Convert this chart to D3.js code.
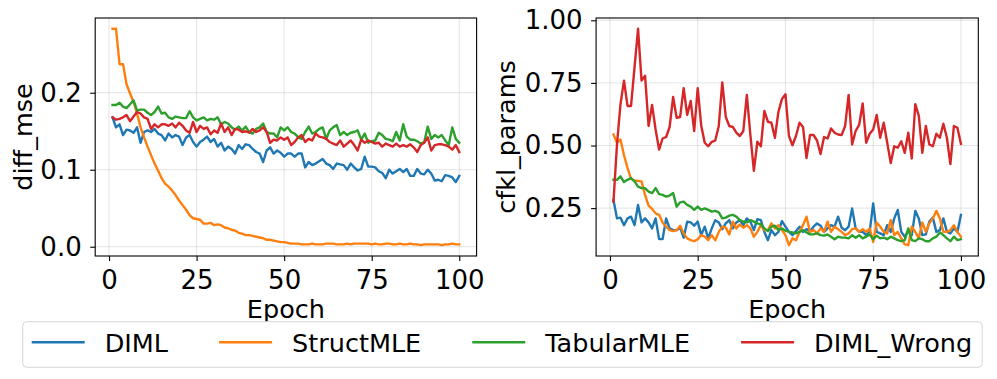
<!DOCTYPE html>
<html>
<head>
<meta charset="utf-8">
<script src="https://cdn.jsdelivr.net/npm/d3@7"></script>
<style>
    body { margin: 0; background: #fff; }
    svg { display: block; font-family: "DejaVu Sans", sans-serif; }
</style>
</head>
<body>
<svg id="chart" width="997" height="379"></svg>
<script>
const epochs = d3.range(1, 101);
const seriesNames = ["DIML", "StructMLE", "TabularMLE", "DIML_Wrong"];
const seriesColors = ["#1f77b4", "#ff7f0e", "#2ca02c", "#d62728"];
const xTicks = [0, 25, 50, 75, 100];

// left panel: diff_mse
const mseDIML = [
    0.168, 0.155, 0.159, 0.145, 0.152, 0.151, 0.148, 0.155, 0.135, 0.149,
    0.151, 0.149, 0.153, 0.147, 0.145, 0.138, 0.147, 0.142, 0.145, 0.143,
    0.132, 0.142, 0.145, 0.136, 0.130, 0.136, 0.139, 0.143, 0.136, 0.140,
    0.130, 0.135, 0.125, 0.130, 0.127, 0.121, 0.132, 0.127, 0.133, 0.132,
    0.127, 0.123, 0.121, 0.110, 0.125, 0.129, 0.121, 0.125, 0.122, 0.117,
    0.121, 0.121, 0.117, 0.121, 0.121, 0.103, 0.110, 0.106, 0.108, 0.111,
    0.114, 0.108, 0.106, 0.101, 0.108, 0.107, 0.106, 0.100, 0.108, 0.103,
    0.099, 0.101, 0.117, 0.104, 0.104, 0.103, 0.098, 0.096, 0.089, 0.100,
    0.095, 0.098, 0.101, 0.097, 0.101, 0.092, 0.092, 0.101, 0.095, 0.094,
    0.100, 0.095, 0.086, 0.087, 0.085, 0.093, 0.092, 0.090, 0.084, 0.092
];
const mseStructMLE = [
    0.283, 0.283, 0.237, 0.237, 0.211, 0.199, 0.188, 0.173, 0.155, 0.142,
    0.130, 0.119, 0.108, 0.099, 0.089, 0.082, 0.078, 0.073, 0.067, 0.060,
    0.054, 0.048, 0.041, 0.037, 0.036, 0.035, 0.030, 0.030, 0.031, 0.028,
    0.029, 0.028, 0.025, 0.024, 0.022, 0.021, 0.018, 0.017, 0.015, 0.015,
    0.014, 0.013, 0.012, 0.011, 0.009, 0.009, 0.008, 0.007, 0.006, 0.006,
    0.005, 0.004, 0.004, 0.004, 0.003, 0.003, 0.003, 0.004, 0.003, 0.003,
    0.003, 0.004, 0.004, 0.004, 0.003, 0.003, 0.003, 0.004, 0.003, 0.004,
    0.004, 0.004, 0.004, 0.004, 0.003, 0.004, 0.003, 0.003, 0.004, 0.004,
    0.003, 0.003, 0.004, 0.003, 0.003, 0.004, 0.003, 0.003, 0.002, 0.003,
    0.003, 0.003, 0.003, 0.003, 0.002, 0.003, 0.003, 0.004, 0.003, 0.003
];
const mseTabularMLE = [
    0.184, 0.184, 0.187, 0.182, 0.180, 0.185, 0.190, 0.177, 0.178, 0.178,
    0.174, 0.171, 0.175, 0.182, 0.173, 0.174, 0.168, 0.166, 0.169, 0.168,
    0.167, 0.167, 0.176, 0.168, 0.164, 0.166, 0.168, 0.164, 0.166, 0.165,
    0.168, 0.159, 0.162, 0.160, 0.155, 0.152, 0.156, 0.151, 0.156, 0.149,
    0.147, 0.153, 0.155, 0.160, 0.149, 0.147, 0.147, 0.142, 0.155, 0.151,
    0.155, 0.149, 0.147, 0.142, 0.140, 0.149, 0.156, 0.147, 0.149, 0.153,
    0.155, 0.140, 0.151, 0.155, 0.158, 0.145, 0.149, 0.145, 0.148, 0.149,
    0.151, 0.139, 0.147, 0.135, 0.137, 0.138, 0.148, 0.145, 0.140, 0.139,
    0.137, 0.149, 0.138, 0.159, 0.143, 0.139, 0.139, 0.137, 0.134, 0.136,
    0.156, 0.140, 0.145, 0.142, 0.145, 0.138, 0.132, 0.155, 0.140, 0.135
];
const mseDIMLWrong = [
    0.168, 0.165, 0.166, 0.168, 0.171, 0.163, 0.169, 0.175, 0.173, 0.168,
    0.166, 0.153, 0.159, 0.155, 0.159, 0.159, 0.157, 0.160, 0.155, 0.161,
    0.157, 0.151, 0.148, 0.162, 0.149, 0.157, 0.153, 0.155, 0.146, 0.151,
    0.148, 0.160, 0.149, 0.155, 0.145, 0.153, 0.152, 0.149, 0.150, 0.148,
    0.153, 0.149, 0.151, 0.155, 0.149, 0.135, 0.139, 0.138, 0.142, 0.139,
    0.142, 0.132, 0.136, 0.142, 0.145, 0.136, 0.140, 0.138, 0.147, 0.143,
    0.142, 0.140, 0.136, 0.134, 0.132, 0.138, 0.130, 0.134, 0.138, 0.132,
    0.125, 0.139, 0.135, 0.138, 0.136, 0.134, 0.135, 0.130, 0.134, 0.132,
    0.130, 0.134, 0.130, 0.132, 0.130, 0.133, 0.129, 0.123, 0.132, 0.135,
    0.142, 0.125, 0.132, 0.133, 0.133, 0.132, 0.130, 0.126, 0.132, 0.123
];

// right panel: cfkl_params
const cfklDIML = [
    0.283, 0.209, 0.212, 0.182, 0.209, 0.216, 0.182, 0.263, 0.193, 0.209,
    0.193, 0.169, 0.209, 0.126, 0.126, 0.209, 0.169, 0.162, 0.162, 0.172,
    0.132, 0.196, 0.193, 0.180, 0.196, 0.142, 0.176, 0.129, 0.169, 0.202,
    0.193, 0.166, 0.189, 0.202, 0.169, 0.193, 0.202, 0.182, 0.209, 0.196,
    0.162, 0.206, 0.202, 0.155, 0.122, 0.162, 0.142, 0.155, 0.198, 0.176,
    0.155, 0.142, 0.158, 0.176, 0.155, 0.166, 0.158, 0.176, 0.189, 0.180,
    0.155, 0.169, 0.182, 0.176, 0.216, 0.172, 0.162, 0.176, 0.249, 0.169,
    0.155, 0.155, 0.142, 0.155, 0.269, 0.155, 0.149, 0.142, 0.182, 0.155,
    0.209, 0.243, 0.155, 0.136, 0.158, 0.142, 0.239, 0.209, 0.142, 0.145,
    0.196, 0.212, 0.155, 0.162, 0.209, 0.155, 0.149, 0.169, 0.155, 0.223
];
const cfklStructMLE = [
    0.544, 0.511, 0.524, 0.461, 0.410, 0.367, 0.359, 0.359, 0.357, 0.303,
    0.260, 0.247, 0.229, 0.223, 0.193, 0.176, 0.162, 0.158, 0.162, 0.180,
    0.149, 0.129, 0.122, 0.118, 0.126, 0.142, 0.136, 0.122, 0.142, 0.122,
    0.155, 0.176, 0.172, 0.145, 0.196, 0.169, 0.185, 0.172, 0.182, 0.169,
    0.136, 0.155, 0.182, 0.162, 0.162, 0.189, 0.169, 0.182, 0.162, 0.142,
    0.102, 0.129, 0.122, 0.155, 0.182, 0.216, 0.155, 0.162, 0.149, 0.169,
    0.155, 0.196, 0.155, 0.176, 0.166, 0.155, 0.142, 0.149, 0.166, 0.169,
    0.155, 0.166, 0.155, 0.169, 0.115, 0.193, 0.176, 0.155, 0.149, 0.202,
    0.142, 0.155, 0.129, 0.105, 0.102, 0.176, 0.155, 0.129, 0.193, 0.155,
    0.189, 0.209, 0.239, 0.209, 0.155, 0.155, 0.162, 0.182, 0.155, 0.136
];
const cfklTabularMLE = [
    0.363, 0.363, 0.377, 0.354, 0.363, 0.370, 0.357, 0.336, 0.330, 0.330,
    0.316, 0.310, 0.330, 0.306, 0.303, 0.296, 0.300, 0.310, 0.256, 0.273,
    0.276, 0.263, 0.256, 0.243, 0.256, 0.243, 0.249, 0.243, 0.236, 0.239,
    0.233, 0.209, 0.212, 0.220, 0.223, 0.216, 0.202, 0.196, 0.193, 0.202,
    0.196, 0.189, 0.185, 0.169, 0.158, 0.176, 0.180, 0.162, 0.169, 0.160,
    0.155, 0.153, 0.149, 0.155, 0.162, 0.153, 0.145, 0.145, 0.149, 0.142,
    0.140, 0.145, 0.136, 0.126, 0.136, 0.132, 0.132, 0.129, 0.142, 0.132,
    0.142, 0.129, 0.136, 0.145, 0.126, 0.140, 0.129, 0.132, 0.126, 0.136,
    0.129, 0.122, 0.118, 0.122, 0.169, 0.122, 0.118, 0.129, 0.126, 0.118,
    0.118, 0.129, 0.136, 0.153, 0.142, 0.129, 0.118, 0.136, 0.122, 0.126
];
const cfklDIMLWrong = [
    0.276, 0.504, 0.665, 0.759, 0.658, 0.658, 0.812, 0.966, 0.759, 0.779,
    0.578, 0.662, 0.564, 0.484, 0.528, 0.534, 0.574, 0.694, 0.611, 0.614,
    0.729, 0.622, 0.678, 0.558, 0.729, 0.580, 0.511, 0.497, 0.515, 0.520,
    0.578, 0.752, 0.614, 0.578, 0.574, 0.551, 0.538, 0.558, 0.702, 0.544,
    0.399, 0.515, 0.497, 0.638, 0.595, 0.591, 0.531, 0.635, 0.685, 0.705,
    0.538, 0.501, 0.538, 0.591, 0.574, 0.450, 0.542, 0.542, 0.520, 0.466,
    0.534, 0.528, 0.568, 0.551, 0.544, 0.542, 0.578, 0.702, 0.504, 0.558,
    0.582, 0.668, 0.511, 0.547, 0.564, 0.622, 0.531, 0.591, 0.511, 0.430,
    0.497, 0.491, 0.517, 0.471, 0.551, 0.448, 0.665, 0.618, 0.471, 0.578,
    0.504, 0.497, 0.547, 0.531, 0.587, 0.531, 0.426, 0.578, 0.571, 0.507
];

class LinePanel {
    margin = { top: 18, bottom: 123 };

    constructor(svg, series, left, width, yLabel, yTicks, yFormat, yLabelOffset) {
        this.svg = svg;
        this.series = series;
        this.left = left;
        this.width = width;
        this.height = 379 - this.margin.top - this.margin.bottom;
        this.yLabel = yLabel;
        this.yTicks = yTicks;
        this.yFormat = yFormat;
        this.yLabelOffset = yLabelOffset;
    }

    initialize() {
        this.container = this.svg.append("g")
            .attr("transform", `translate(${this.left}, ${this.margin.top})`);

        this.gridGroup = this.container.append("g");
        this.xAxisGroup = this.container.append("g")
            .attr("transform", `translate(0, ${this.height})`);
        this.yAxisGroup = this.container.append("g");
        this.lineGroup = this.container.append("g");
    }

    update() {
        const x = d3.scaleLinear()
            .domain([-3.95, 104.95])
            .range([0, this.width]);

        const all = this.series.flatMap(s => s.values);
        const lo = d3.min(all), hi = d3.max(all);
        const pad = (hi - lo) * 0.05;
        const y = d3.scaleLinear()
            .domain([lo - pad, hi + pad])
            .range([this.height, 0]);

        // grid
        this.gridGroup.selectAll("line.gx")
            .data(xTicks)
            .join("line")
            .attr("class", "gx")
            .attr("x1", d => x(d)).attr("x2", d => x(d))
            .attr("y1", 0).attr("y2", this.height);
        this.gridGroup.selectAll("line.gy")
            .data(this.yTicks)
            .join("line")
            .attr("class", "gy")
            .attr("x1", 0).attr("x2", this.width)
            .attr("y1", d => y(d)).attr("y2", d => y(d));
        this.gridGroup.selectAll("line")
            .attr("stroke", "#b0b0b0")
            .attr("stroke-opacity", 0.35)
            .attr("stroke-width", 1);

        const xAxisCall = d3.axisBottom(x).tickValues(xTicks).tickSize(5).tickPadding(10);
        this.xAxisGroup.call(xAxisCall);

        const yAxisCall = d3.axisLeft(y).tickValues(this.yTicks)
            .tickFormat(d3.format(this.yFormat)).tickSize(5).tickPadding(8.5);
        this.yAxisGroup.call(yAxisCall);

        for (const g of [this.xAxisGroup, this.yAxisGroup]) {
            g.attr("font-family", "DejaVu Sans").attr("font-size", 26);
            g.select(".domain").remove();
            g.selectAll(".tick line").attr("stroke", "#000").attr("stroke-width", 1.1);
            g.selectAll(".tick text").attr("fill", "#000");
        }

        const line = d3.line()
            .x((d, i) => x(epochs[i]))
            .y(d => y(d));

        this.lineGroup.selectAll("path")
            .data(this.series)
            .join("path")
            .attr("d", d => line(d.values))
            .attr("fill", "none")
            .attr("stroke", d => d.color)
            .attr("stroke-width", 2.4)
            .attr("stroke-linejoin", "round")
            .attr("stroke-linecap", "square");

        // frame
        this.container.append("rect")
            .attr("width", this.width)
            .attr("height", this.height)
            .attr("fill", "none")
            .attr("stroke", "#000")
            .attr("stroke-width", 1.1);

        this.container.append("text")
            .attr("x", this.width / 2)
            .attr("y", this.height + 62)
            .attr("text-anchor", "middle")
            .attr("font-size", 25.5)
            .text("Epoch");

        this.container.append("text")
            .attr("transform", `translate(${this.yLabelOffset}, ${this.height / 2}) rotate(-90)`)
            .attr("text-anchor", "middle")
            .attr("font-size", 25.5)
            .text(this.yLabel);
    }
}

const svg = d3.select("#chart");

const makeSeries = arrays => arrays.map((values, i) => ({
    name: seriesNames[i], color: seriesColors[i], values
}));

const left = new LinePanel(svg,
    makeSeries([mseDIML, mseStructMLE, mseTabularMLE, mseDIMLWrong]),
    95.2, 381.4, "diff_mse", [0, 0.1, 0.2], ".1f", -63);
left.initialize();
left.update();

const right = new LinePanel(svg,
    makeSeries([cfklDIML, cfklStructMLE, cfklTabularMLE, cfklDIMLWrong]),
    596.1, 382.2, "cfkl_params", [0.25, 0.5, 0.75, 1.0], ".2f", -81);
right.initialize();
right.update();

// legend
const legend = svg.append("g");
const legendBox = legend.append("rect");
const legendY = 342.3;
let cursor = 31.7;
seriesNames.forEach((name, i) => {
    legend.append("line")
        .attr("x1", cursor).attr("x2", cursor + 53)
        .attr("y1", legendY).attr("y2", legendY)
        .attr("stroke", seriesColors[i])
        .attr("stroke-width", 2.4);
    const t = legend.append("text")
        .attr("x", cursor + 73)
        .attr("y", legendY + 9.3)
        .attr("font-size", 25.5)
        .text(name);
    cursor += 73 + t.node().getComputedTextLength() + (i < seriesNames.length - 1 ? 51 : 0);
});
legendBox
    .attr("x", 22.7).attr("y", 321.7)
    .attr("width", cursor + 10 - 22.7)
    .attr("height", 45.6)
    .attr("rx", 4)
    .attr("fill", "#fff")
    .attr("stroke", "#d6d6d6")
    .attr("stroke-width", 1);
</script>
</body>
</html>
